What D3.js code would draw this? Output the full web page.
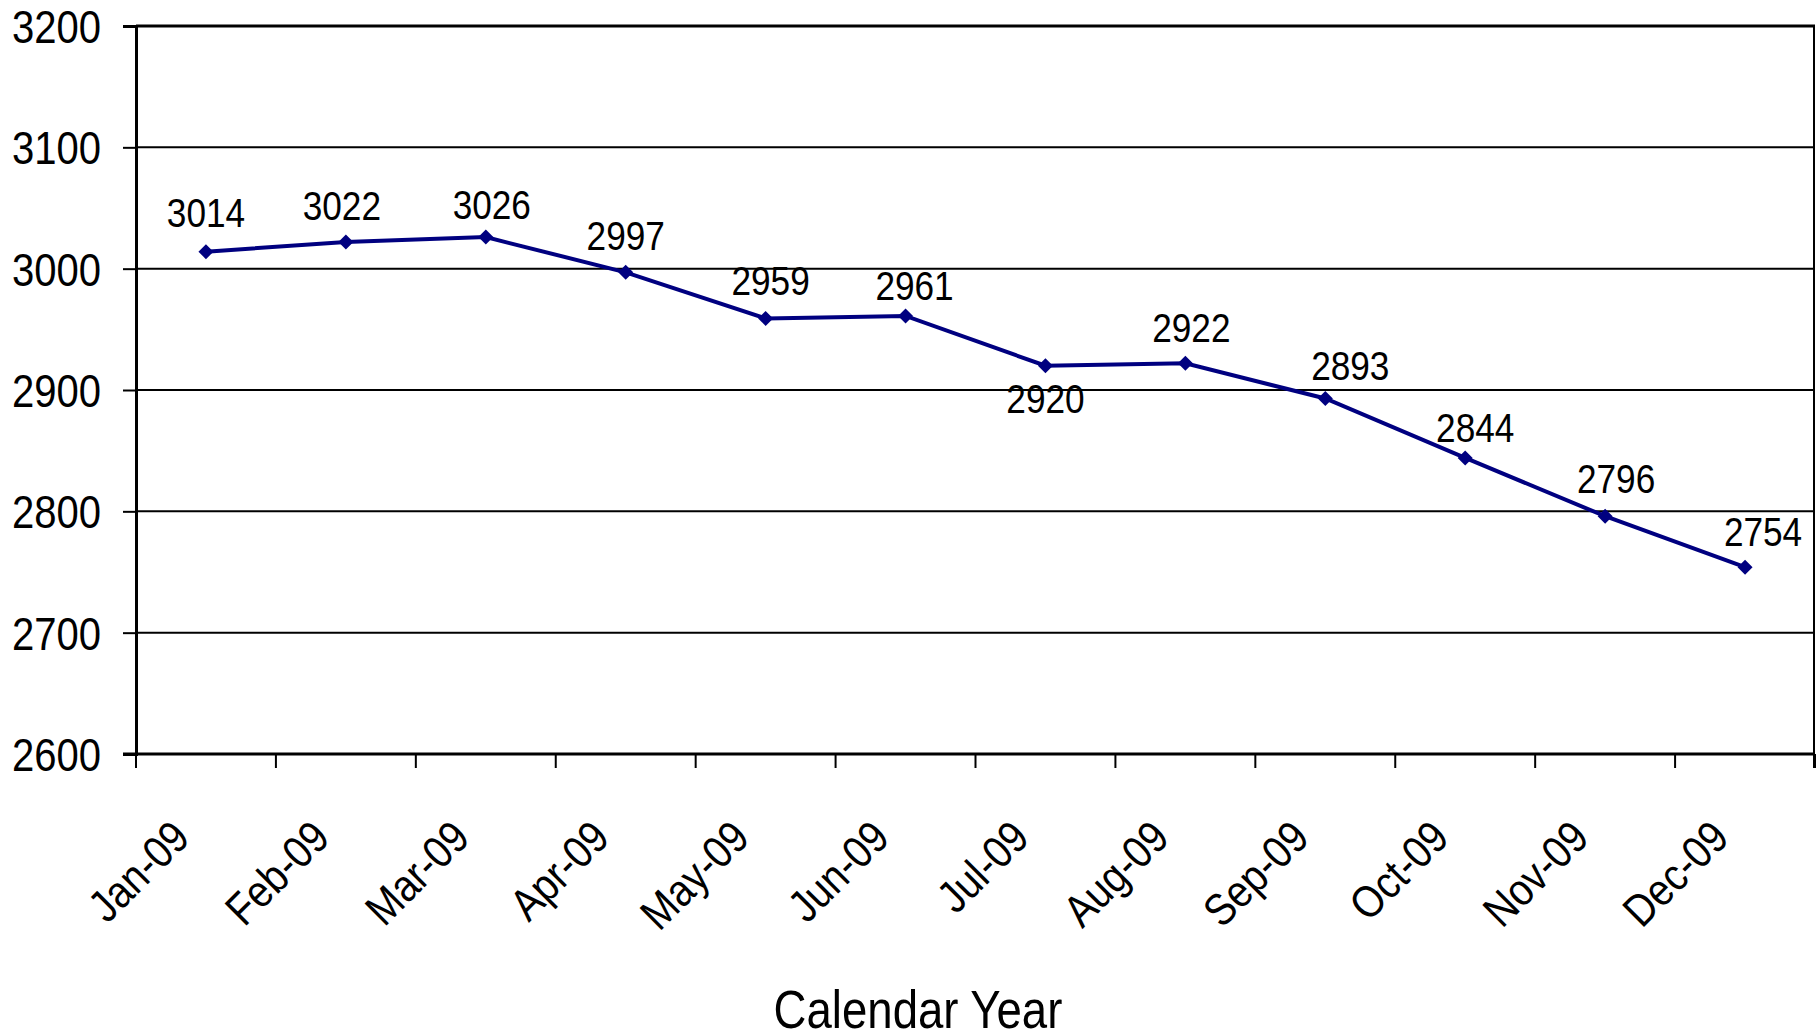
<!DOCTYPE html>
<html>
<head>
<meta charset="utf-8">
<script src="https://cdn.jsdelivr.net/npm/d3@7"></script>
<style>
  body { margin: 0; background: #fff; }
  text { font-family: "Liberation Sans", Arial, sans-serif; fill: #000; }
</style>
</head>
<body>
<svg width="1816" height="1036"></svg>
<script>
// data
var months = ["Jan-09", "Feb-09", "Mar-09", "Apr-09", "May-09", "Jun-09",
              "Jul-09", "Aug-09", "Sep-09", "Oct-09", "Nov-09", "Dec-09"];
var values = [3014, 3022, 3026, 2997, 2959, 2961, 2920, 2922, 2893, 2844, 2796, 2754];
var yTicks = [2600, 2700, 2800, 2900, 3000, 3100, 3200];
var xTitle = "Calendar Year";

var svg = d3.select("svg");

// plot box
var pLeft = 136, pRight = 1815, pTop = 26, pBottom = 754;
var narrow = 0.87;   // squeeze Liberation Sans to look like a narrow face

var x = d3.scaleBand().domain(months).range([pLeft, pRight]);
var y = d3.scaleLinear().domain([2600, 3200]).range([pBottom, pTop]);

// gridlines
svg.append("g")
  .selectAll("line")
  .data(yTicks)
  .enter().append("line")
    .attr("x1", pLeft).attr("x2", pRight)
    .attr("y1", function(d) { return y(d); })
    .attr("y2", function(d) { return y(d); })
    .attr("stroke", "#000")
    .attr("stroke-width", function(d) { return d === 3200 ? 3 : 2; });

// right border
svg.append("line")
    .attr("x1", pRight - 1).attr("x2", pRight - 1)
    .attr("y1", pTop).attr("y2", pBottom + 14)
    .attr("stroke", "#000").attr("stroke-width", 2);

// y axis
var yAxis = svg.append("g")
    .attr("transform", "translate(" + pLeft + ",0)")
    .call(d3.axisLeft(y).tickValues(yTicks).tickSize(13).tickPadding(22).tickFormat(d3.format("d")));
yAxis.select(".domain").attr("stroke-width", 3);
yAxis.selectAll(".tick line").attr("stroke-width", 2);
yAxis.selectAll("text")
    .attr("font-family", null)
    .attr("font-size", 46)
    .attr("dy", "0.36em")
    .attr("transform", function() { return "translate(" + (+this.getAttribute("x")) + ",0) scale(" + narrow + ",1)"; })
    .attr("x", 0);

// x axis: ticks at band edges
var xEdges = months.map(function(m) { return x(m); }).concat([pRight]);
svg.append("line")
    .attr("x1", pLeft - 13).attr("x2", pRight)
    .attr("y1", pBottom).attr("y2", pBottom)
    .attr("stroke", "#000").attr("stroke-width", 3);
svg.append("g")
  .selectAll("line")
  .data(xEdges)
  .enter().append("line")
    .attr("x1", function(d) { return d; })
    .attr("x2", function(d) { return d; })
    .attr("y1", pBottom).attr("y2", pBottom + 14)
    .attr("stroke", "#000").attr("stroke-width", 2);

svg.append("g")
  .selectAll("text")
  .data(months)
  .enter().append("text")
    .attr("transform", function(d) {
      return "translate(" + (x(d) + x.bandwidth() / 2 - 14) + "," + 840 + ") rotate(-45) scale(" + narrow + ",1)";
    })
    .attr("text-anchor", "end")
    .attr("font-size", 45)
    .text(function(d) { return d; });

// axis title
svg.append("text")
    .attr("transform", "translate(918,1028) scale(0.86,1)")
    .attr("text-anchor", "middle")
    .attr("font-size", 53)
    .text(xTitle);

// series
var cx = function(d, i) { return x(months[i]) + x.bandwidth() / 2; };

svg.append("path")
    .datum(values)
    .attr("fill", "none")
    .attr("stroke", "#000080")
    .attr("stroke-width", 4)
    .attr("d", d3.line().x(cx).y(function(d) { return y(d); }));

svg.append("g")
  .selectAll("path")
  .data(values)
  .enter().append("path")
    .attr("transform", function(d, i) { return "translate(" + cx(d, i) + "," + y(d) + ")"; })
    .attr("d", "M0,-7.5L7.5,0L0,7.5L-7.5,0Z")
    .attr("fill", "#000080");

// data labels (nudged the way the source chart has them)
var labelDx = [0, -4, 6, 0, 5, 9, 0, 6, 25, 10, 11, 18];
var labelDy = [-25, -22, -18, -22, -23, -16, 47, -21, -18, -16, -23, -21];

svg.append("g")
  .selectAll("text")
  .data(values)
  .enter().append("text")
    .attr("transform", function(d, i) {
      return "translate(" + (cx(d, i) + labelDx[i]) + "," + (y(d) + labelDy[i]) + ") scale(0.88,1)";
    })
    .attr("text-anchor", "middle")
    .attr("font-size", 40)
    .text(function(d) { return d; });
</script>
</body>
</html>
